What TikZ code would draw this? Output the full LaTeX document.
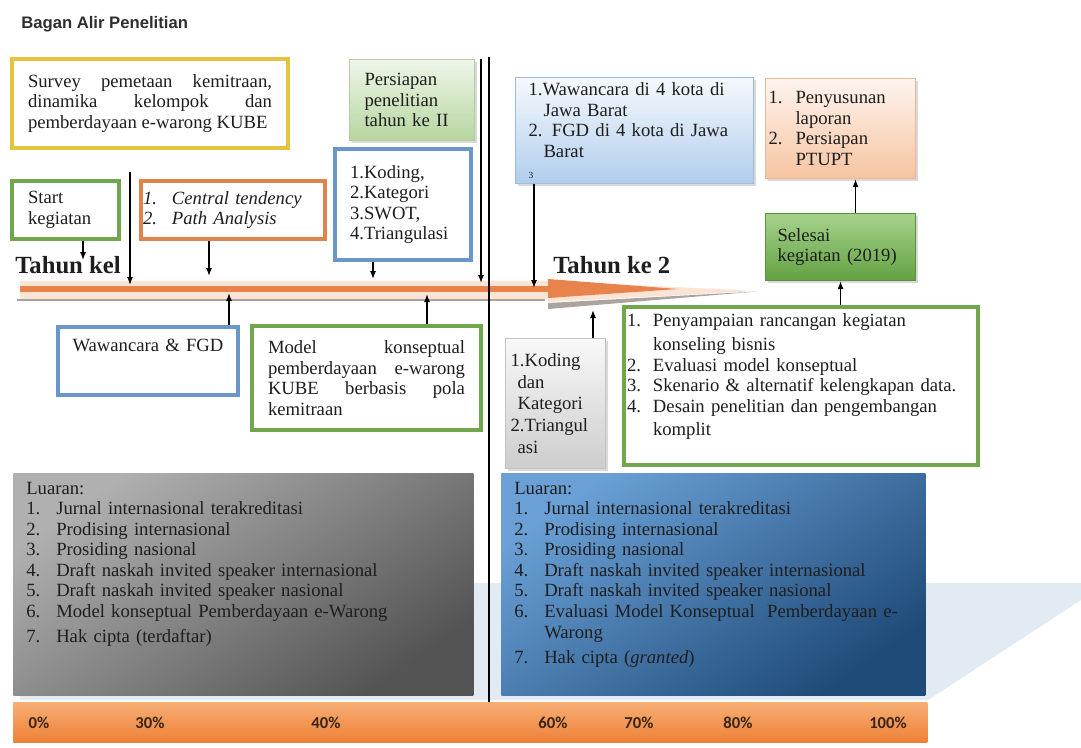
\documentclass[tikz,border=0pt]{standalone}
\usepackage{fontspec}
\setmainfont{Liberation Serif}
\newfontfamily\titlefont{Liberation Sans}
\newfontfamily\pctfont{Carlito}
\usetikzlibrary{arrows.meta,shadows}
\definecolor{ink}{HTML}{1E1E1E}
\definecolor{titlegray}{HTML}{2E2E2E}
\definecolor{yellowbd}{HTML}{E6C23F}
\definecolor{greenbd}{HTML}{72A64D}
\definecolor{orangebd}{HTML}{E0834C}
\definecolor{bluebd}{HTML}{6A96C8}
\definecolor{persA}{HTML}{EEF6E9}
\definecolor{persB}{HTML}{B6D59F}
\definecolor{persbd}{HTML}{B3CC9F}
\definecolor{wawA}{HTML}{F5F9FD}
\definecolor{wawB}{HTML}{B1CDEC}
\definecolor{wawbd}{HTML}{9DBBDF}
\definecolor{penA}{HTML}{FEF4EE}
\definecolor{penB}{HTML}{F6C4A1}
\definecolor{penbd}{HTML}{ECB996}
\definecolor{selA}{HTML}{A6D38B}
\definecolor{selB}{HTML}{62A142}
\definecolor{selbd}{HTML}{5B8F3D}
\definecolor{kodA}{HTML}{F8F8F8}
\definecolor{kodB}{HTML}{CDCDCD}
\definecolor{kodbd}{HTML}{C2C2C2}
\definecolor{lgA}{HTML}{B0B0B0}
\definecolor{lgB}{HTML}{545454}
\definecolor{lbA}{HTML}{6AA0D6}
\definecolor{lbB}{HTML}{1F4B78}
\definecolor{barA}{HTML}{F7AE75}
\definecolor{barB}{HTML}{EE8136}
\definecolor{pcttext}{HTML}{3A2416}
\definecolor{tlorange}{HTML}{E8834E}
\definecolor{tlpeach}{HTML}{FBE4D4}
\definecolor{tlgray}{HTML}{ABA39E}
\definecolor{palebg}{HTML}{E2EAF3}
\newlength{\pxd}\setlength{\pxd}{0.75pt}
\newcommand{\lbl}[2][27\pxd]{\makebox[#1][l]{#2}}
\newcommand{\boxfont}{\fontsize{14}{15.4}\selectfont}
\begin{document}
\begin{tikzpicture}
[x=0.75pt, y=-0.75pt, font=\boxfont, text=ink]
\tikzstyle{frame}=[draw, line width=3pt, fill=white, anchor=north west, align=left, inner ysep=0pt]
\tikzstyle{soft}=[draw, line width=0.8pt, anchor=north west, align=left, inner ysep=0pt, drop shadow={shadow xshift=1.5pt, shadow yshift=-1.5pt, opacity=0.3}]
\tikzstyle{outbox}=[anchor=north west, align=left, inner ysep=0pt, inner xsep=13\pxd, text height=21\pxd, text depth=201\pxd]
\tikzstyle{link}=[-{Latex[length=6pt, width=4.5pt]}, line width=1pt, black]
\tikzstyle{pct}=[anchor=base, inner sep=0pt, font=\pctfont\bfseries\fontsize{12.5}{13}\selectfont, text=pcttext]
\tikzstyle{year}=[anchor=base west, inner sep=0pt, font=\bfseries\fontsize{18.5}{20}\selectfont]
\useasboundingbox (0,0) rectangle (1081,747);

\fill[palebg] (20,583) -- (1081,583) -- (1081,600) -- (928,700) -- (20,700) -- cycle;

\fill[tlpeach] (20,281) rectangle (548,299);
\draw[tlorange, line width=6\pxd] (20,289) -- (550,289);
\draw[tlgray, line width=2.5\pxd] (17,300) -- (545,300);
\fill[tlpeach] (548,281) -- (757,291) -- (548,302) -- cycle;
\fill[tlorange] (548,279) -- (678,289) -- (548,298) -- cycle;
\fill[tlgray] (548,303) -- (757,291.5) -- (548,309) -- cycle;

\node[anchor=base west, inner sep=0pt, font=\titlefont\bfseries\fontsize{12.5}{14}\selectfont, text=titlegray] (title) at (21,28) {Bagan Alir Penelitian};

\node[frame, draw=yellowbd, align=justify, inner xsep=16\pxd, text width=244\pxd, minimum height=89\pxd]	(survey)	at (10,57)	{Survey pemetaan kemitraan,\linebreak dinamika kelompok dan\linebreak pemberdayaan e-warong KUBE};
\node[soft, draw=persbd, top color=persA, bottom color=persB, inner xsep=15\pxd, text width=95\pxd, minimum height=81\pxd]	(persiapan)	at (349,59)	{Persiapan\\penelitian\\tahun ke II};
\node[frame, draw=bluebd, inner xsep=15\pxd, text width=106\pxd, minimum height=111\pxd]	(koding)	at (333,147)	{1.Koding,\\2.Kategori\\3.SWOT,\\4.Triangulasi};
\node[frame, draw=greenbd, inner xsep=16\pxd, text width=75\pxd, minimum height=58\pxd]	(start)	at (10,179)	{Start\\kegiatan};
\node[frame, draw=orangebd, font=\boxfont\itshape, inner xsep=2\pxd, text width=180\pxd, minimum height=58\pxd]	(central)	at (139,179)	{\lbl[29\pxd]{1.}Central tendency\\\lbl[29\pxd]{2.}Path Analysis};
\node[soft, draw=wawbd, top color=wawA, bottom color=wawB, inner xsep=13\pxd, text width=212\pxd, minimum height=106\pxd]	(wawancara)	at (515,77)	{1.Wawancara di 4 kota di\\\hspace*{15\pxd}Jawa Barat\\2. FGD di 4 kota di Jawa\\\hspace*{15\pxd}Barat\\{\fontsize{7}{8}\selectfont 3}};
\node[soft, draw=penbd, top color=penA, bottom color=penB, inner xsep=3\pxd, text width=144\pxd, minimum height=100\pxd]	(penyusunan)	at (765,78)	{\lbl{1.}Penyusunan\\\lbl{}laporan\\\lbl{2.}Persiapan\\\lbl{}PTUPT};
\node[soft, draw=selbd, top color=selA, bottom color=selB, inner xsep=12\pxd, text width=126\pxd, minimum height=67\pxd]	(selesai)	at (765,213)	{Selesai\\kegiatan (2019)};

\node[year]	(year1)	at (15,273)	{Tahun kel};
\node[year]	(year2)	at (553,273)	{Tahun ke 2};

\node[frame, draw=bluebd, align=center, inner xsep=10\pxd, text width=160\pxd, text height=24\pxd, text depth=44\pxd]	(fgd)	at (56,325)	{Wawancara \& FGD};
\node[frame, draw=greenbd, align=justify, inner xsep=16\pxd, text width=197\pxd, minimum height=104\pxd]	(model)	at (250,324)	{Model konseptual\linebreak pemberdayaan e-warong\linebreak KUBE berbasis pola\linebreak kemitraan};
\node[soft, draw=kodbd, top color=kodA, bottom color=kodB, font=\fontsize{14}{16.3}\selectfont, inner xsep=5\pxd, text width=90\pxd, minimum height=130\pxd]	(kodingdan)	at (505,338)	{1.Koding\\\hspace*{7\pxd}dan\\\hspace*{7\pxd}Kategori\\2.Triangul\\\hspace*{7\pxd}asi};
\node[frame, draw=greenbd, inner xsep=3\pxd, text width=348\pxd, text height=19\pxd, text depth=139\pxd]	(penyampaian)	at (622,305)	{\lbl[26\pxd]{1.}Penyampaian rancangan kegiatan\\[4\pxd]\lbl[26\pxd]{}konseling bisnis\\\lbl[26\pxd]{2.}Evaluasi model konseptual\\\lbl[26\pxd]{3.}Skenario \& alternatif kelengkapan data.\\\lbl[26\pxd]{4.}Desain penelitian dan pengembangan\\[3\pxd]\lbl[26\pxd]{}komplit};

\node[outbox, top color=lgA, bottom color=lgB, shading angle=35, text width=434\pxd]	(luaran1)	at (13,473)	{Luaran:\\\lbl[30\pxd]{1.}Jurnal internasional terakreditasi\\\lbl[30\pxd]{2.}Prodising internasional\\\lbl[30\pxd]{3.}Prosiding nasional\\\lbl[30\pxd]{4.}Draft naskah invited speaker internasional\\\lbl[30\pxd]{5.}Draft naskah invited speaker nasional\\\lbl[30\pxd]{6.}Model konseptual Pemberdayaan e-Warong\\[3.5pt]\lbl[30\pxd]{7.}Hak cipta (terdaftar)};
\node[outbox, top color=lbA, bottom color=lbB, shading angle=35, text width=398\pxd]	(luaran2)	at (501,473)	{Luaran:\\\lbl[30\pxd]{1.}Jurnal internasional terakreditasi\\\lbl[30\pxd]{2.}Prodising internasional\\\lbl[30\pxd]{3.}Prosiding nasional\\\lbl[30\pxd]{4.}Draft naskah invited speaker internasional\\\lbl[30\pxd]{5.}Draft naskah invited speaker nasional\\\lbl[30\pxd]{6.}Evaluasi Model Konseptual\ \ Pemberdayaan e-\\\lbl[30\pxd]{}Warong\\[3.5pt]\lbl[30\pxd]{7.}Hak cipta (\textit{granted})};

\node[anchor=north west, inner sep=0pt, minimum width=914\pxd, minimum height=40\pxd, top color=barA, bottom color=barB]	(bar)	at (13,702)	{};
\node[pct]	(p0)	at (39,728)	{0\%};
\node[pct]	(p30)	at (150,728)	{30\%};
\node[pct]	(p40)	at (326,728)	{40\%};
\node[pct]	(p60)	at (553,728)	{60\%};
\node[pct]	(p70)	at (639,728)	{70\%};
\node[pct]	(p80)	at (738,728)	{80\%};
\node[pct]	(p100)	at (888,728)	{100\%};

\coordinate (D) at (489,57);
\draw[line width=1pt] (D) -- (bar.north -| D);

\coordinate (T1) at (83,260);
\coordinate (S2) at (130,172);
\coordinate (T2) at (130,285);
\coordinate (T3) at (209,276);
\coordinate (T4) at (373,279);
\coordinate (S5) at (481,59);
\coordinate (T5) at (481,283);
\coordinate (T6) at (534,288);
\coordinate (T7) at (229,293);
\coordinate (T8) at (427,294);
\coordinate (T9) at (593,310);

\draw[link] (start.south -| T1) -- (T1);
\draw[link] (S2) -- (T2);
\draw[link] (central.south -| T3) -- (T3);
\draw[link] (koding.south -| T4) -- (T4);
\draw[link] (S5) -- (T5);
\draw[link] (wawancara.south -| T6) -- (T6);
\draw[link] (fgd.north -| T7) -- (T7);
\draw[link] (model.north -| T8) -- (T8);
\draw[link] (kodingdan.north -| T9) -- (T9);
\draw[link] (penyampaian.north -| selesai.south) -- (selesai.south);
\draw[link] ([xshift=15\pxd]selesai.north) -- ([xshift=15\pxd]penyusunan.south);
\end{tikzpicture}
\end{document}
